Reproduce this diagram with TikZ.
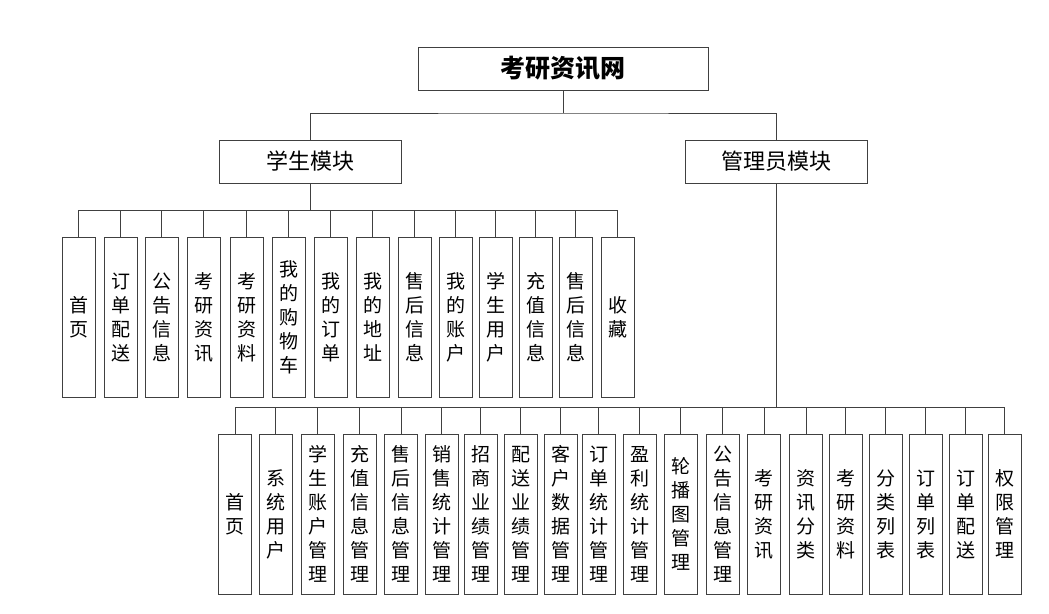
\documentclass[tikz,border=0pt]{standalone}
\usepackage{fontspec}
\newfontfamily\cjk{Noto Sans CJK SC}
\begin{document}
\begin{tikzpicture}[x=1pt,y=-1pt,
  box/.style={draw=black!75,line width=1pt,fill=white,inner sep=0pt,font=\cjk},
  topbox/.style={box,minimum width=290pt,minimum height=43pt,font=\cjk\bfseries\fontsize{25}{28}\selectfont},
  modbox/.style={box,minimum width=182pt,minimum height=43pt,font=\cjk\fontsize{22}{26}\selectfont},
  leaf/.style={box,anchor=north,minimum width=33pt,minimum height=160pt,align=center,font=\cjk\fontsize{19}{24}\selectfont},
  conn/.style={draw=black!75,line width=0.9pt}]
\useasboundingbox (0,0) rectangle (1049,613);
\node[topbox] (top) at (563,68.5) {考研资讯网};
\node[modbox] (stu) at (310,161.5) {学生模块};
\node[modbox] (adm) at (776.5,161.5) {管理员模块};
\coordinate (bus0) at (0,113);
\coordinate (sbus) at (0,210);
\coordinate (abus) at (0,407);
\draw[conn] (top.south) -- (top.south |- bus0);
\draw[conn] (stu.north) |- (top.south |- bus0) -| (adm.north);
% student leaves
\foreach \i/\x/\t in {1/78.5/{首\\页},2/120.5/{订\\单\\配\\送},3/161.5/{公\\告\\信\\息},4/203.5/{考\\研\\资\\讯},5/246.5/{考\\研\\资\\料},6/288.5/{我\\的\\购\\物\\车},7/330.5/{我\\的\\订\\单},8/372.5/{我\\的\\地\\址},9/414.5/{售\\后\\信\\息},10/455.5/{我\\的\\账\\户},11/495.5/{学\\生\\用\\户},12/535.5/{充\\值\\信\\息},13/575.5/{售\\后\\信\\息},14/617.5/{收\\藏}}{
  \node[leaf] (s\i) at (\x,237) {\t};
  \draw[conn] (s\i.north) -- (s\i.north |- sbus);
}
\draw[conn] (stu.south) -- (stu.south |- sbus);
\draw[conn] (s1.north |- sbus) -- (s14.north |- sbus);
% admin leaves
\foreach \i/\x/\t in {1/235/{首\\页},2/275.5/{系\\统\\用\\户},3/317.5/{学\\生\\账\\户\\管\\理},4/359.5/{充\\值\\信\\息\\管\\理},5/401/{售\\后\\信\\息\\管\\理},6/441.5/{销\\售\\统\\计\\管\\理},7/480.5/{招\\商\\业\\绩\\管\\理},8/520.5/{配\\送\\业\\绩\\管\\理},9/560.5/{客\\户\\数\\据\\管\\理},10/598.5/{订\\单\\统\\计\\管\\理},11/639.5/{盈\\利\\统\\计\\管\\理},12/680.5/{轮\\播\\图\\管\\理},13/722.5/{公\\告\\信\\息\\管\\理},14/764/{考\\研\\资\\讯},15/806/{资\\讯\\分\\类},16/845.5/{考\\研\\资\\料},17/885.5/{分\\类\\列\\表},18/925.5/{订\\单\\列\\表},19/965.5/{订\\单\\配\\送},20/1004.5/{权\\限\\管\\理}}{
  \node[leaf] (a\i) at (\x,433.5) {\t};
  \draw[conn] (a\i.north) -- (a\i.north |- abus);
}
\draw[conn] (adm.south) -- (adm.south |- abus);
\draw[conn] (a1.north |- abus) -- (a20.north |- abus);
\end{tikzpicture}
\end{document}
